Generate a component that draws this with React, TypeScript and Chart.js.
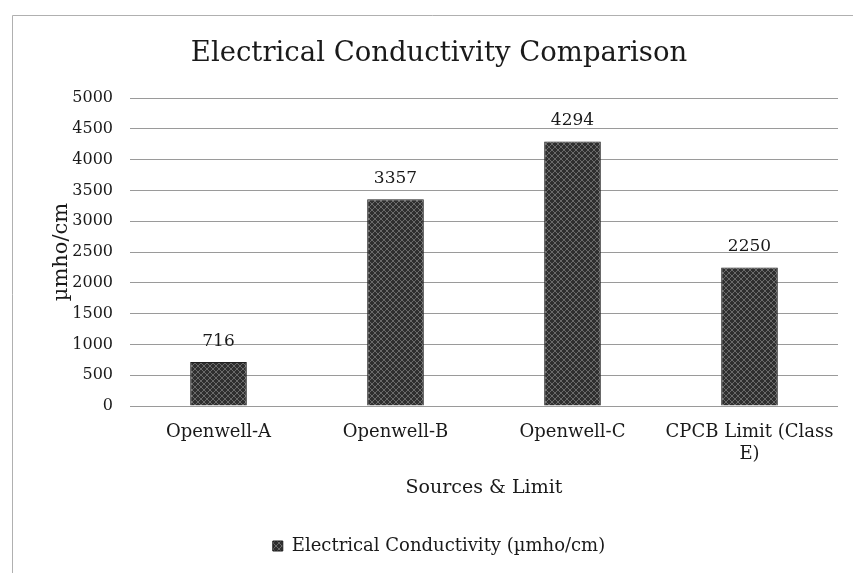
import React, { useEffect, useRef } from "react";
import { Chart, registerables } from "chart.js";

Chart.register(...registerables);

const categories: (string | string[])[] = ["Openwell-A", "Openwell-B", "Openwell-C", ["CPCB Limit (Class", "E)"]];
const values = [716, 3357, 4294, 2250];
const seriesLabel = "Electrical Conductivity (µmho/cm)";
const chartTitle = "Electrical Conductivity Comparison";
const xTitle = "Sources & Limit";
const yTitle = "µmho/cm";
const yMin = 0;
const yMax = 5000;
const yStep = 500;

const FONT = "'DejaVu Serif', 'Liberation Serif', serif";

function makePattern(): CanvasPattern | string {
  const c = document.createElement("canvas");
  c.width = 6;
  c.height = 6;
  const g = c.getContext("2d");
  if (!g) return "#333";
  g.fillStyle = "#2f2f2f";
  g.fillRect(0, 0, 6, 6);
  g.fillStyle = "#6a6a6a";
  for (let i = 0; i < 6; i++) {
    g.fillRect(i, i, 1, 1);
    g.fillRect(5 - i, i, 1, 1);
  }
  const p = g.createPattern(c, "repeat");
  return p || "#333";
}

const valueLabels = {
  id: "valueLabels",
  afterDatasetsDraw(chart: any) {
    const ctx = chart.ctx;
    ctx.save();
    ctx.font = `17px ${FONT}`;
    ctx.fillStyle = "#1a1a1a";
    ctx.textAlign = "center";
    ctx.textBaseline = "bottom";
    chart.getDatasetMeta(0).data.forEach((bar: any, i: number) => {
      ctx.fillText(String(values[i]), bar.x, bar.y - 12);
    });
    ctx.restore();
  },
};

const bgPlugin = {
  id: "bgFill",
  beforeDraw(chart: any) {
    const ctx = chart.ctx;
    ctx.save();
    ctx.fillStyle = "#ffffff";
    ctx.fillRect(0, 0, chart.width, chart.height);
    ctx.strokeStyle = "#b0b0b0";
    ctx.lineWidth = 1;
    ctx.beginPath();
    ctx.moveTo(12.5, 573);
    ctx.lineTo(12.5, 15.5);
    ctx.lineTo(853, 15.5);
    ctx.stroke();
    ctx.restore();
  },
};

export default function App() {
  const ref = useRef<HTMLCanvasElement | null>(null);
  useEffect(() => {
    if (!ref.current) return;
    const pattern = makePattern();
    const chart = new Chart(ref.current, {
      type: "bar",
      data: {
        labels: categories,
        datasets: [
          {
            label: seriesLabel,
            data: values,
            backgroundColor: pattern as any,
            borderColor: "#1e1e1e",
            borderWidth: 1,
            categoryPercentage: 1,
            barPercentage: 0.32,
          },
        ],
      },
      options: {
        responsive: false,
        animation: false,
        devicePixelRatio: 1,
        layout: { padding: { left: 40, right: 15, top: 37, bottom: 8 } },
        plugins: {
          title: {
            display: true,
            text: chartTitle,
            color: "#1a1a1a",
            font: { family: FONT, size: 27.5, weight: "normal" },
            padding: { top: 0, bottom: 28 },
          },
          legend: {
            position: "bottom",
            labels: {
              color: "#1a1a1a",
              font: { family: FONT, size: 18 },
              boxWidth: 10,
              boxHeight: 10,
              padding: 4,
            },
          },
          tooltip: { enabled: false },
        },
        scales: {
          x: {
            grid: { display: false, drawTicks: false },
            border: { display: false },
            ticks: {
              color: "#1a1a1a",
              font: { family: FONT, size: 18 },
              padding: 16,
              maxRotation: 0,
              autoSkip: false,
            },
            title: {
              display: true,
              text: xTitle,
              color: "#1a1a1a",
              font: { family: FONT, size: 19 },
              padding: { top: -5, bottom: 34 },
            },
          },
          y: {
            min: yMin,
            max: yMax,
            grid: { color: "#9a9a9a", lineWidth: 1, drawTicks: false },
            border: { display: false },
            ticks: {
              stepSize: yStep,
              color: "#1a1a1a",
              font: { family: FONT, size: 16 },
              padding: 17,
              callback: (v: any) => String(v),
            },
            title: {
              display: true,
              text: yTitle,
              color: "#1a1a1a",
              font: { family: FONT, size: 21 },
              padding: { top: 9, bottom: 0 },
            },
            afterFit(scale: any) {
              scale.width = 90;
            },
          },
        },
      },
      plugins: [bgPlugin, valueLabels],
    });
    return () => chart.destroy();
  }, []);
  return (
    <div style={{ position: "fixed", left: 0, top: 0, width: 853, height: 573 }}>
      <canvas ref={ref} width={853} height={573} style={{ display: "block" }} />
    </div>
  );
}
